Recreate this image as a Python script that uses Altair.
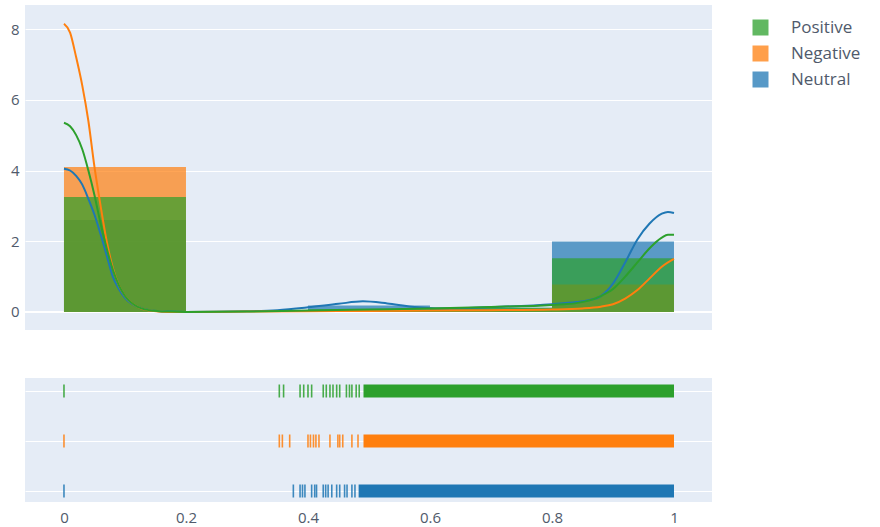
import altair as alt
import pandas as pd

# ---- series definitions -------------------------------------------------
groups = ["Positive", "Negative", "Neutral"]
colors = ["#2ca02c", "#ff7f0e", "#1f77b4"]
draw_order = ["Neutral", "Negative", "Positive"]
rug_rows = {"Positive": 2, "Negative": 1, "Neutral": 0}

# ---- histogram (probability density, bin width 0.2) ---------------------
bin_starts = [0.0, 0.2, 0.4, 0.6, 0.8]
bin_width = 0.2
hist_positive = [3.25, 0.02, 0.07, 0.12, 1.52]
hist_negative = [4.10, 0.01, 0.04, 0.07, 0.78]
hist_neutral = [2.60, 0.02, 0.18, 0.12, 1.99]

# ---- kernel density curves ----------------------------------------------
kde_x_positive = [0.0, 0.01, 0.02, 0.03, 0.04, 0.05, 0.06, 0.07, 0.08, 0.09, 0.10,
                  0.12, 0.14, 0.17, 0.2, 0.3, 0.4, 0.5, 0.6, 0.7, 0.8, 0.84, 0.86,
                  0.88, 0.9, 0.92, 0.94, 0.96, 0.98, 0.99, 1.0]
kde_y_positive = [5.35, 5.25, 5.0, 4.6, 4.0, 3.3, 2.5, 1.8, 1.2, 0.75, 0.45,
                  0.15, 0.05, 0.01, 0.0, 0.01, 0.04, 0.07, 0.10, 0.14, 0.20, 0.25, 0.32,
                  0.45, 0.65, 1.0, 1.4, 1.8, 2.1, 2.18, 2.18]

kde_x_negative = [0.0, 0.01, 0.02, 0.03, 0.04, 0.05, 0.06, 0.07, 0.08, 0.09, 0.10,
                  0.12, 0.14, 0.17, 0.2, 0.3, 0.4, 0.5, 0.6, 0.7, 0.8, 0.85, 0.88,
                  0.9, 0.92, 0.94, 0.96, 0.98, 1.0]
kde_y_negative = [8.15, 7.9, 7.2, 6.4, 5.4, 4.1, 3.0, 2.0, 1.25, 0.75, 0.45,
                  0.15, 0.04, 0.0, 0.0, 0.01, 0.02, 0.03, 0.04, 0.05, 0.07, 0.10, 0.15,
                  0.22, 0.38, 0.62, 0.95, 1.28, 1.5]

kde_x_neutral = [0.0, 0.01, 0.02, 0.03, 0.04, 0.05, 0.06, 0.07, 0.08, 0.09, 0.10,
                 0.12, 0.14, 0.17, 0.2, 0.3, 0.35, 0.4, 0.45, 0.49, 0.53, 0.57, 0.62,
                 0.7, 0.8, 0.84, 0.86, 0.88, 0.9, 0.92, 0.94, 0.96, 0.98, 0.99, 1.0]
kde_y_neutral = [4.05, 4.0, 3.85, 3.6, 3.2, 2.75, 2.2, 1.6, 1.0, 0.65, 0.4,
                 0.15, 0.05, 0.01, 0.0, 0.02, 0.05, 0.13, 0.23, 0.30, 0.24, 0.15, 0.10,
                 0.14, 0.22, 0.28, 0.33, 0.45, 0.8, 1.4, 2.05, 2.5, 2.78, 2.83, 2.8]

# ---- rug: individual observations plus the densely packed upper range ----
rug_positive = [0.0, 0.353, 0.360, 0.387, 0.393, 0.400, 0.406, 0.425, 0.430, 0.436,
                0.441, 0.447, 0.452, 0.463, 0.468, 0.472, 0.479, 0.484]
rug_negative = [0.0, 0.353, 0.358, 0.370, 0.400, 0.404, 0.409, 0.413, 0.418, 0.436,
                0.449, 0.452, 0.457, 0.472, 0.482]
rug_neutral = [0.0, 0.376, 0.387, 0.391, 0.395, 0.406, 0.411, 0.414, 0.425, 0.429,
               0.433, 0.439, 0.447, 0.452, 0.460, 0.464, 0.472, 0.477]
dense_start = {"Positive": 0.491, "Negative": 0.491, "Neutral": 0.483}
dense_end = 1.0

x_ticks = [0, 0.2, 0.4, 0.6, 0.8, 1.0]
y_ticks = [0, 2, 4, 6, 8]

# ---- tables --------------------------------------------------------------
hist_vals = {"Positive": hist_positive, "Negative": hist_negative, "Neutral": hist_neutral}
kde_vals = {"Positive": (kde_x_positive, kde_y_positive),
            "Negative": (kde_x_negative, kde_y_negative),
            "Neutral": (kde_x_neutral, kde_y_neutral)}
rug_vals = {"Positive": rug_positive, "Negative": rug_negative, "Neutral": rug_neutral}

hist_df = pd.DataFrame([
    {"group": g, "x0": s, "x1": s + bin_width, "density": h, "base": 0.0}
    for g in groups for s, h in zip(bin_starts, hist_vals[g])
])
kde_df = pd.DataFrame([
    {"group": g, "x": x, "y": y}
    for g in groups for x, y in zip(*kde_vals[g])
])
rug_df = pd.DataFrame([
    {"group": g, "x": v, "row": rug_rows[g]} for g in groups for v in rug_vals[g]
])
dense_df = pd.DataFrame([
    {"group": g, "x0": dense_start[g], "x1": dense_end, "row": rug_rows[g]} for g in groups
])

BG = "#E5ECF6"
FONT = "Open Sans"
LABEL_COLOR = "#505a6b"
W = 687
TICK_HALF = 0.13
X_DOMAIN = [-0.0639, 1.0623]

x_scale_top = alt.Scale(domain=X_DOMAIN, nice=False, zero=False)
y_axis_top = alt.Axis(values=y_ticks, grid=True, gridColor="white", gridWidth=1,
                      domain=False, ticks=False, labelPadding=6, labelFontSize=15,
                      labelColor=LABEL_COLOR, labelFont=FONT, minExtent=20, maxExtent=20,
                      title=None)
y_scale_top = alt.Scale(domain=[-0.51, 8.68], nice=False, zero=False)
color_scale = alt.Scale(domain=groups, range=colors)

zero_line = alt.Chart(pd.DataFrame({"v": [0]})).mark_rule(color="white", strokeWidth=2).encode(
    y=alt.Y("v:Q", scale=y_scale_top, axis=y_axis_top)
)

# overlaid histogram bars, Neutral underneath and Positive on top
bar_layers = []
for g in draw_order:
    bar_layers.append(
        alt.Chart(hist_df).transform_filter(alt.datum.group == g).mark_rect(opacity=0.7).encode(
            x=alt.X("x0:Q", scale=x_scale_top, axis=None),
            x2="x1:Q",
            y=alt.Y("density:Q", scale=y_scale_top, axis=y_axis_top),
            y2="base:Q",
            color=alt.Color("group:N", scale=color_scale, sort=groups,
                            legend=alt.Legend(title=None)),
        )
    )

# density curves drawn above all bars
line_layers = []
for g in draw_order:
    line_layers.append(
        alt.Chart(kde_df).transform_filter(alt.datum.group == g).mark_line(
            strokeWidth=2, interpolate="monotone").encode(
            x=alt.X("x:Q", scale=x_scale_top, axis=None),
            y=alt.Y("y:Q", scale=y_scale_top, axis=y_axis_top),
            color=alt.Color("group:N", scale=color_scale, legend=None),
        )
    )

top = alt.layer(zero_line, *bar_layers, *line_layers).properties(width=W, height=325)

# ---- rug panel -----------------------------------------------------------
x_bottom_scale = alt.Scale(domain=X_DOMAIN, nice=False, zero=False)
x_bottom_axis = alt.Axis(values=x_ticks, format="~g", grid=False, domain=False, ticks=False,
                         labelPadding=8, labelFontSize=15, labelColor=LABEL_COLOR,
                         labelFont=FONT, title=None)
y_bottom_scale = alt.Scale(domain=[-0.22, 2.26], nice=False, zero=False)
y_bottom_axis = alt.Axis(values=[0, 1, 2], grid=True, gridColor="white", gridWidth=1,
                         domain=False, ticks=False, labels=False, minExtent=20,
                         maxExtent=20, title=None)

dense = alt.Chart(dense_df).transform_calculate(
    lo=f"datum.row - {TICK_HALF}", hi=f"datum.row + {TICK_HALF}"
).mark_rect().encode(
    x=alt.X("x0:Q", scale=x_bottom_scale, axis=x_bottom_axis),
    x2="x1:Q",
    y=alt.Y("lo:Q", scale=y_bottom_scale, axis=y_bottom_axis),
    y2="hi:Q",
    color=alt.Color("group:N", scale=color_scale, legend=None),
)

ticks = alt.Chart(rug_df).transform_calculate(
    lo=f"datum.row - {TICK_HALF}", hi=f"datum.row + {TICK_HALF}"
).mark_rule(strokeWidth=1.6, opacity=0.85).encode(
    x=alt.X("x:Q", scale=x_bottom_scale, axis=x_bottom_axis),
    y=alt.Y("lo:Q", scale=y_bottom_scale, axis=y_bottom_axis),
    y2="hi:Q",
    color=alt.Color("group:N", scale=color_scale, legend=None),
)

bottom = alt.layer(dense, ticks).properties(width=W, height=124)

chart = alt.vconcat(top, bottom, spacing=48).resolve_scale(
    x="independent", y="independent", color="shared"
).properties(
    padding={"left": 5, "top": 5, "right": 5, "bottom": 5},
    background="white",
).configure_view(
    fill=BG, stroke=None
).configure_legend(
    orient="none", legendX=727, legendY=14,
    symbolType="square", symbolSize=256, symbolStrokeWidth=0, symbolOpacity=0.75,
    labelFontSize=17, labelFont=FONT, labelColor=LABEL_COLOR, labelOffset=22,
    rowPadding=8, padding=0,
)

chart.save("out.html", embed_options={"renderer": "svg", "actions": False})
